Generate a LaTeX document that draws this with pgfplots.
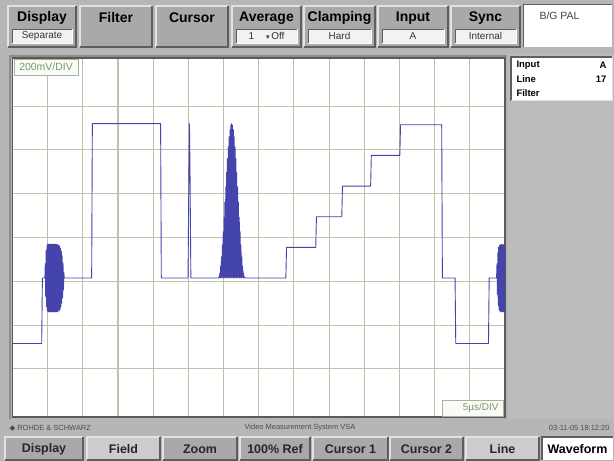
\documentclass[border=0pt]{standalone}
\usepackage{pgfplots}
\pgfplotsset{compat=1.18}
\usepackage{fontspec}
\setmainfont{Liberation Sans}
\newfontfamily\dejavu{DejaVu Sans}
\definecolor{bg}{HTML}{B6B6B6}
\definecolor{btn}{HTML}{A9A9A9}
\definecolor{btnlight}{HTML}{E2E2E2}
\definecolor{btndark}{HTML}{5E5E5E}
\definecolor{subbg}{HTML}{F2F2F2}
\definecolor{gridc}{HTML}{BEC2A6}
\definecolor{framec}{HTML}{5A5A5A}
\definecolor{trace}{HTML}{4444AC}
\definecolor{lbl}{HTML}{789A68}
\definecolor{lblbox}{HTML}{A8B498}
\definecolor{stat}{HTML}{4E4E4E}

\newcommand\topbtn[3]{%
  \fill[btn] (#1,-6) rectangle (#2,-47);
  \draw[btnlight,line width=1.3] (#1,-47)--(#1,-6)--(#2,-6);
  \draw[btndark,line width=1.3] (#2,-6)--(#2,-47)--(#1,-47);
  \node[font=\bfseries\fontsize{14}{15}\selectfont] at ({(#1+#2)/2},-18) {#3};}
\newcommand\subbox[3]{%
  \fill[subbg] ({#1+4},-29) rectangle ({#2-4},-43);
  \draw[btndark,line width=0.7] ({#1+4},-43)--({#1+4},-29)--({#2-4},-29);
  \draw[white,line width=0.7] ({#2-4},-29)--({#2-4},-43)--({#1+4},-43);
  \node[font=\fontsize{10}{11}\selectfont,text=black!80] at ({(#1+#2)/2},-36) {#3};}
\newcommand\botbtn[4]{%
  \fill[#4] (#1,-437) rectangle (#2,-460);
  \draw[btnlight,line width=1.2] (#1,-460)--(#1,-437)--(#2,-437);
  \draw[btndark,line width=1.2] (#2,-437)--(#2,-460)--(#1,-460);
  \node[font=\bfseries\fontsize{12.5}{13}\selectfont,text=black!85] at ({(#1+#2)/2},-449) {#3};}

\begin{document}
\begin{tikzpicture}[x=1bp,y=1bp]
\fill[bg] (0,0) rectangle (614,-461);
% top buttons
\topbtn{8}{76}{Display}\subbox{8}{76}{Separate}
\topbtn{80}{152}{Filter}
\topbtn{156}{228}{Cursor}
\topbtn{232}{301}{Average}\subbox{232}{301}{1\hspace{12bp}{\dejavu\fontsize{7}{8}\selectfont ▾}\,Off}
\topbtn{304}{375}{Clamping}\subbox{304}{375}{Hard}
\topbtn{378}{448}{Input}\subbox{378}{448}{A}
\topbtn{451}{520}{Sync}\subbox{451}{520}{Internal}
\fill[white] (523,-5) rectangle (612,-47);
\draw[btndark,line width=1] (523,-47)--(523,-5)--(612,-5);
\node[anchor=west,font=\fontsize{10.5}{11}\selectfont,text=black!75] at (536,-16) {B/G PAL};
% right info panel
\fill[bg!92!white] (508,-54) rectangle (614,-419);
\fill[white] (511,-57) rectangle (612,-101);
\draw[btndark,line width=1.3] (511,-101)--(511,-57)--(612,-57);
\draw[btnlight,line width=1] (612,-57)--(612,-101)--(511,-101);
\begin{scope}[font=\bfseries\fontsize{9.5}{10}\selectfont]
\node[anchor=west] at (513,-65) {Input};
\node[anchor=east] at (610,-65) {A};
\node[anchor=west] at (513,-79) {Line};
\node[anchor=east] at (610,-79) {17};
\node[anchor=west] at (513,-93) {Filter};
\end{scope}
% plot frame outer shade
\draw[black!45,line width=1.5] (10,-419)--(10,-56)--(507,-56);
\begin{axis}[
  at={(12.5bp,-417bp)}, anchor=south west,
  width=492.5bp, height=359bp, scale only axis,
  xmin=0, xmax=14, ymin=-4.1, ymax=4.1,
  xtick={1,2,...,13}, ytick={-3,-2,...,3},
  xticklabels={}, yticklabels={},
  major tick length=0pt,
  grid=major,
  major grid style={gridc,line width=1.1bp},
  axis line style={framec,line width=1.5bp},
  axis background/.style={fill=white},
  clip=true,
]
\addplot[trace, line width=0.9bp, line join=round] coordinates {
(-0.05,-2.42) (0.83,-2.42) (0.85,-0.925) (0.92,-0.925)
(0.932,-0.60) (0.944,-1.35) (0.956,-0.30) (0.968,-1.58) (0.980,-0.18)
(0.992,-1.68) (1.004,-0.15) (1.016,-1.70) (1.028,-0.16) (1.040,-1.69)
(1.052,-0.15) (1.064,-1.70) (1.076,-0.15) (1.088,-1.70) (1.100,-0.16)
(1.112,-1.69) (1.124,-0.15) (1.136,-1.70) (1.148,-0.16) (1.160,-1.70)
(1.172,-0.15) (1.184,-1.69) (1.196,-0.16) (1.208,-1.70) (1.220,-0.15)
(1.232,-1.70) (1.244,-0.16) (1.256,-1.69) (1.268,-0.16) (1.280,-1.70)
(1.292,-0.17) (1.304,-1.68) (1.316,-0.18) (1.328,-1.67) (1.340,-0.20)
(1.352,-1.64) (1.364,-0.25) (1.376,-1.58) (1.388,-0.32) (1.400,-1.50)
(1.412,-0.42) (1.424,-1.38) (1.436,-0.58) (1.448,-1.20) (1.460,-0.80)
(1.47,-0.925)
(2.25,-0.925) (2.27,2.60) (4.21,2.60) (4.23,-0.925)
(4.99,-0.925) (5.015,1.60) (5.03,2.60) (5.045,1.60) (5.07,-0.925)
(5.86,-0.925)
(5.870,-0.90) (5.882,-0.925) (5.894,-0.81) (5.906,-0.91) (5.918,-0.65) (5.930,-0.925)
(5.942,-0.44) (5.954,-0.90) (5.966,-0.17) (5.978,-0.925) (5.990,0.13) (6.002,-0.91)
(6.014,0.46) (6.026,-0.925) (6.038,0.81) (6.050,-0.90) (6.062,1.16) (6.074,-0.925)
(6.086,1.49) (6.098,-0.91) (6.110,1.80) (6.122,-0.925) (6.134,2.07) (6.146,-0.90)
(6.158,2.30) (6.170,-0.925) (6.182,2.46) (6.194,-0.91) (6.206,2.57) (6.218,-0.925)
(6.230,2.60) (6.242,-0.90) (6.254,2.56) (6.266,-0.925) (6.278,2.46) (6.290,-0.91)
(6.302,2.30) (6.314,-0.925) (6.326,2.07) (6.338,-0.90) (6.350,1.80) (6.362,-0.925)
(6.374,1.49) (6.386,-0.91) (6.398,1.16) (6.410,-0.925) (6.422,0.81) (6.434,-0.90)
(6.446,0.46) (6.458,-0.925) (6.470,0.13) (6.482,-0.91) (6.494,-0.17) (6.506,-0.925)
(6.518,-0.44) (6.530,-0.90) (6.542,-0.65) (6.554,-0.925) (6.566,-0.81) (6.578,-0.91)
(6.590,-0.90) (6.602,-0.925)
(7.77,-0.925) (7.79,-0.225) (8.62,-0.225) (8.64,0.475) (9.36,0.475)
(9.38,1.175) (10.18,1.175) (10.20,1.875) (11.01,1.875) (11.03,2.575)
(12.20,2.575) (12.22,-0.925) (12.58,-0.925) (12.60,-2.42) (13.53,-2.42)
(13.55,-0.925) (13.76,-0.925)
(13.772,-0.60) (13.784,-1.30) (13.796,-0.35) (13.808,-1.55) (13.820,-0.22)
(13.832,-1.65) (13.844,-0.18) (13.856,-1.68) (13.868,-0.17) (13.880,-1.69)
(13.892,-0.16) (13.904,-1.70) (13.916,-0.16) (13.928,-1.69) (13.940,-0.17)
(13.952,-1.70) (13.964,-0.16) (13.976,-1.69) (13.988,-0.17) (14.000,-1.70)
(14.012,-0.16) (14.024,-1.70) (14.036,-0.17)
};
\end{axis}
% scale labels
\fill[white!96!lbl] (14,-59) rectangle (78,-75);
\draw[lblbox,line width=0.8] (14,-59) rectangle (78,-75);
\node[font=\fontsize{10.5}{11}\selectfont,text=lbl] at (46,-67) {200mV/DIV};
\fill[white!96!lbl] (442,-400) rectangle (503,-416);
\draw[lblbox,line width=0.8] (442,-400) rectangle (503,-416);
\node[anchor=east,font=\fontsize{10}{11}\selectfont,text=lbl] at (502,-408) {5µs/DIV};
% status line
\node[anchor=west,font=\fontsize{7.5}{8}\selectfont,text=stat] at (6,-428) {{\dejavu ◆} ROHDE \& SCHWARZ};
\node[font=\fontsize{7.5}{8}\selectfont,text=stat] at (300,-428) {Video Measurement System VSA};
\node[anchor=east,font=\fontsize{7.5}{8}\selectfont,text=stat] at (613,-428) {03-11-05 18:12:20};
% bottom buttons
\botbtn{5}{83}{Display}{btn}
\botbtn{87}{160}{Field}{black!20}
\botbtn{163}{237}{Zoom}{btn}
\botbtn{240}{310}{100\% Ref}{btn}
\botbtn{313}{388}{Cursor 1}{btn}
\botbtn{390}{463}{Cursor 2}{btn}
\botbtn{466}{539}{Line}{black!20}
\fill[white] (542,-437) rectangle (613,-460);
\draw[btndark,line width=1.2] (542,-460)--(542,-437)--(613,-437);
\node[font=\bfseries\fontsize{12.5}{13}\selectfont] at (577.5,-449) {Waveform};
\end{tikzpicture}
\end{document}
